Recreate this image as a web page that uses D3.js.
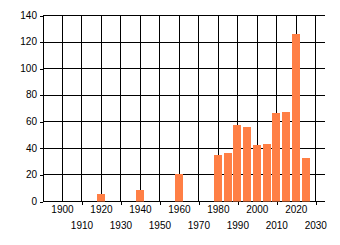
<!DOCTYPE html>
<html>
<head>
<meta charset="utf-8">
<script src="https://cdn.jsdelivr.net/npm/d3@7"></script>
<style>
  html, body { margin: 0; padding: 0; background: #fff; }
  svg { display: block; }
  text { font-family: "Liberation Sans", Arial, sans-serif; font-size: 10px; fill: #000; }
</style>
</head>
<body>
<div id="chart"></div>
<script>
// values, one bar every 5 years
const years = [1920, 1940, 1960, 1980, 1985, 1990, 1995, 2000, 2005, 2010, 2015, 2020, 2025];
const counts = [5, 8, 20, 35, 36, 57, 56, 42, 43, 66, 67, 126, 32];
const yTicks = [0, 20, 40, 60, 80, 100, 120, 140];
const xTicksTop = [1900, 1920, 1940, 1960, 1980, 2000, 2020];
const xTicksBottom = [1910, 1930, 1950, 1970, 1990, 2010, 2030];

const W = 340, H = 245;
const plotLeft = 42.5, plotRight = 325, plotTop = 15, plotBottom = 201;

const svg = d3.select('#chart').append('svg')
  .attr('width', W)
  .attr('height', H);

const x = d3.scaleLinear().domain([1890, 2035]).range([plotLeft, plotRight]);
const y = d3.scaleLinear().domain([0, 140]).range([plotBottom, plotTop]);
const yearFmt = d3.format('d');

// crisp 1px lines
const px = v => Math.round(v) + 0.5;

// grid
const grid = svg.append('g').attr('class', 'grid')
  .attr('stroke', '#000').attr('stroke-width', 1).attr('shape-rendering', 'crispEdges');
grid.selectAll('line.h')
  .data(yTicks)
  .join('line')
  .classed('h', true)
  .attr('x1', px(x.range()[0]) - 0.5)
  .attr('x2', x.range()[1])
  .attr('y1', d => px(y(d)))
  .attr('y2', d => px(y(d)));
grid.selectAll('line.v')
  .data(xTicksTop.concat(xTicksBottom))
  .join('line')
  .classed('v', true)
  .attr('x1', d => px(x(d)))
  .attr('x2', d => px(x(d)))
  .attr('y1', px(y(140)))
  .attr('y2', px(y(0)));
// y axis line
grid.append('line')
  .attr('x1', px(x.range()[0]) - 0.5)
  .attr('x2', px(x.range()[0]) - 0.5)
  .attr('y1', px(y(140)))
  .attr('y2', px(y(0)));

// bars
const bw = (x(1905) - x(1900)) * 0.8;
svg.append('g')
  .selectAll('rect')
  .data(years)
  .join('rect')
  .attr('x', d => Math.round(x(d) - bw / 2))
  .attr('width', Math.round(bw))
  .attr('y', (d, i) => Math.round(y(counts[i])))
  .attr('height', (d, i) => px(y(0)) - Math.round(y(counts[i])))
  .attr('fill', '#ff7f45');

// y axis
const yAxis = svg.append('g')
  .attr('transform', `translate(${px(x.range()[0]) - 0.5},0)`)
  .call(d3.axisLeft(y).tickValues(yTicks).tickSize(3).tickPadding(3).tickSizeOuter(0));
yAxis.select('.domain').remove();
yAxis.selectAll('line').attr('transform', 'translate(0,0.5)').attr('shape-rendering', 'crispEdges').attr('stroke', '#000');
yAxis.selectAll('text').attr('font-family', null).attr('font-size', null);

// x axis, labels staggered on two rows
const xTop = svg.append('g')
  .attr('transform', `translate(0,${plotBottom})`)
  .call(d3.axisBottom(x).tickValues(xTicksTop).tickFormat(yearFmt).tickSize(0).tickPadding(5));
xTop.select('.domain').remove();
xTop.selectAll('text').attr('font-family', null).attr('font-size', null);

const xBot = svg.append('g')
  .attr('transform', `translate(0,${plotBottom})`)
  .call(d3.axisBottom(x).tickValues(xTicksBottom).tickFormat(yearFmt).tickSize(3).tickPadding(18));
xBot.select('.domain').remove();
xBot.selectAll('line').attr('transform', 'translate(0.5,0.5)').attr('shape-rendering', 'crispEdges').attr('stroke', '#000');
xBot.selectAll('text').attr('font-family', null).attr('font-size', null);
</script>
</body>
</html>
